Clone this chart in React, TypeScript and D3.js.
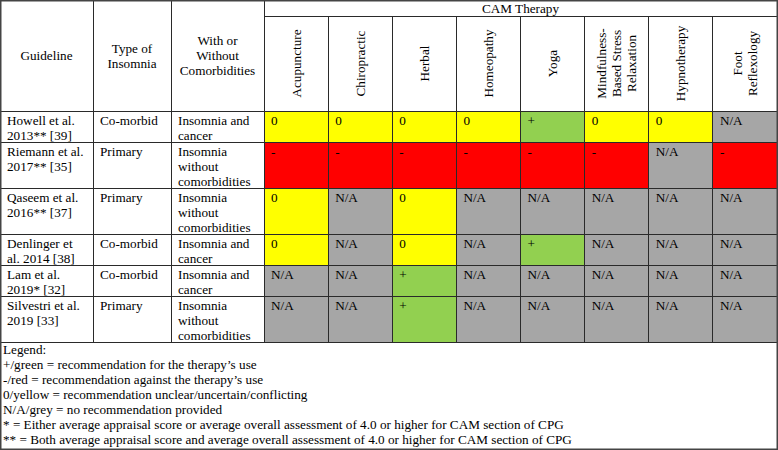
import React from "react";
import * as d3 from "d3";

const guidelines = [
  ["Howell et al.", "2013** [39]"],
  ["Riemann et al.", "2017** [35]"],
  ["Qaseem et al.", "2016** [37]"],
  ["Denlinger et", "al. 2014 [38]"],
  ["Lam et al.", "2019* [32]"],
  ["Silvestri et al.", "2019 [33]"],
];
const insomniaTypes = ["Co-morbid", "Primary", "Primary", "Co-morbid", "Co-morbid", "Primary"];
const comorbidities = [
  ["Insomnia and", "cancer"],
  ["Insomnia", "without", "comorbidities"],
  ["Insomnia", "without", "comorbidities"],
  ["Insomnia and", "cancer"],
  ["Insomnia and", "cancer"],
  ["Insomnia", "without", "comorbidities"],
];
const therapies = [
  ["Acupuncture"],
  ["Chiropractic"],
  ["Herbal"],
  ["Homeopathy"],
  ["Yoga"],
  ["Mindfulness-", "Based Stress", "Relaxation"],
  ["Hypnotherapy"],
  ["Foot", "Reflexology"],
];
const ratings = [
  ["0", "0", "0", "0", "+", "0", "0", "N/A"],
  ["-", "-", "-", "-", "-", "-", "N/A", "-"],
  ["0", "N/A", "0", "N/A", "N/A", "N/A", "N/A", "N/A"],
  ["0", "N/A", "0", "N/A", "+", "N/A", "N/A", "N/A"],
  ["N/A", "N/A", "+", "N/A", "N/A", "N/A", "N/A", "N/A"],
  ["N/A", "N/A", "+", "N/A", "N/A", "N/A", "N/A", "N/A"],
];
const headerLeft = [["Guideline"], ["Type of", "Insomnia"], ["With or", "Without", "Comorbidities"]];
const groupTitle = "CAM Therapy";
const legendLines = [
  "Legend:",
  "+/green = recommendation for the therapy\u2019s use",
  "-/red = recommendation against the therapy\u2019s use",
  "0/yellow = recommendation unclear/uncertain/conflicting",
  "N/A/grey = no recommendation provided",
  "* = Either average appraisal score or average overall assessment of 4.0 or higher for CAM section of CPG",
  "** = Both average appraisal score and average overall assessment of 4.0 or higher for CAM section of CPG",
];

const W = 778;
const H = 450;
const FONT = "Liberation Serif";
const colorScale = d3
  .scaleOrdinal<string, string>()
  .domain(["+", "-", "0", "N/A"])
  .range(["#92D050", "#FF0000", "#FFFF00", "#A6A6A6"]);

export default function App() {
  const leftEdges = [0, 93, 171, 264];
  const xBand = d3
    .scaleBand<number>()
    .domain(d3.range(therapies.length))
    .range([264, 777]);
  const headerTop = 16;
  const headerBottom = 111;
  const lineH = 15;
  const rowHeights = guidelines.map((g, i) =>
    Math.max(g.length, comorbidities[i].length) * lineH + 1
  );
  const rowTops: number[] = [];
  let acc = headerBottom;
  rowHeights.forEach((h) => {
    rowTops.push(acc);
    acc += h;
  });
  const tableBottom = acc;
  const stroke = "#2a2a2a";
  const pad = 7;
  const baseOff = 13.5;
  const txtStyle = { fontFamily: FONT, fontSize: "13.2px" };
  const ink = "#000";

  const textLines = (lines: string[], x: number, y: number, key: string) => (
    <text key={key} x={x} y={y} style={txtStyle} fill={ink}>
      {lines.map((l, j) => (
        <tspan key={j} x={x} y={y + j * lineH}>
          {l}
        </tspan>
      ))}
    </text>
  );

  return (
    <svg
      width={W}
      height={H}
      style={{ position: "absolute", left: 0, top: 0, background: "#fff" }}
    >
      <rect x={0} y={0} width={W} height={H} fill="#fff" />
      {ratings.map((row, i) =>
        row.map((v, j) => (
          <rect
            key={`c${i}-${j}`}
            x={xBand(j)!}
            y={rowTops[i]}
            width={xBand.bandwidth()}
            height={rowHeights[i]}
            fill={colorScale(v)}
          />
        ))
      )}
      {ratings.map((row, i) =>
        row.map((v, j) =>
          textLines([v], xBand(j)! + pad, rowTops[i] + baseOff, `t${i}-${j}`)
        )
      )}
      {guidelines.map((g, i) => textLines(g, leftEdges[0] + pad, rowTops[i] + baseOff, `g${i}`))}
      {insomniaTypes.map((t, i) => textLines([t], leftEdges[1] + pad, rowTops[i] + baseOff, `ty${i}`))}
      {comorbidities.map((c, i) => textLines(c, leftEdges[2] + pad, rowTops[i] + baseOff, `cm${i}`))}

      {headerLeft.map((lines, k) => {
        const cx = (leftEdges[k] + leftEdges[k + 1]) / 2;
        const cy = headerBottom / 2;
        return (
          <text key={`hl${k}`} style={txtStyle} fill={ink} textAnchor="middle">
            {lines.map((l, j) => (
              <tspan key={j} x={cx} y={cy + (j - (lines.length - 1) / 2) * lineH + 4.5}>
                {l}
              </tspan>
            ))}
          </text>
        );
      })}
      <text x={(264 + 777) / 2} y={12.5} style={txtStyle} fill={ink} textAnchor="middle">
        {groupTitle}
      </text>
      {therapies.map((lines, j) => {
        const cx = xBand(j)! + xBand.bandwidth() / 2;
        const cy = (headerTop + headerBottom) / 2;
        return (
          <g key={`th${j}`} transform={`translate(${cx},${cy}) rotate(-90)`}>
            <text style={txtStyle} fill={ink} textAnchor="middle">
              {lines.map((l, k) => (
                <tspan key={k} x={0} y={(k - (lines.length - 1) / 2) * lineH + 4.5}>
                  {l}
                </tspan>
              ))}
            </text>
          </g>
        );
      })}

      <g stroke={stroke} strokeWidth={1} shapeRendering="crispEdges">
        {leftEdges.slice(1).map((x, k) => (
          <line key={`vl${k}`} x1={x} x2={x} y1={0} y2={tableBottom} />
        ))}
        {d3.range(1, therapies.length).map((j) => (
          <line key={`vt${j}`} x1={xBand(j)!} x2={xBand(j)!} y1={headerTop} y2={tableBottom} />
        ))}
        <line x1={264} x2={777} y1={headerTop} y2={headerTop} />
        {rowTops.map((y, i) => (
          <line key={`h${i}`} x1={0} x2={777} y1={y} y2={y} />
        ))}
        <line x1={0} x2={777} y1={tableBottom} y2={tableBottom} />
      </g>
      <rect
        x={0.75}
        y={0.75}
        width={W - 1.5}
        height={H - 1.5}
        fill="none"
        stroke="#444"
        strokeWidth={1.5}
      />

      <text style={txtStyle} fill={ink}>
        {legendLines.map((l, k) => (
          <tspan key={k} x={3} y={tableBottom + 12 + k * 15}>
            {l}
          </tspan>
        ))}
      </text>
    </svg>
  );
}
